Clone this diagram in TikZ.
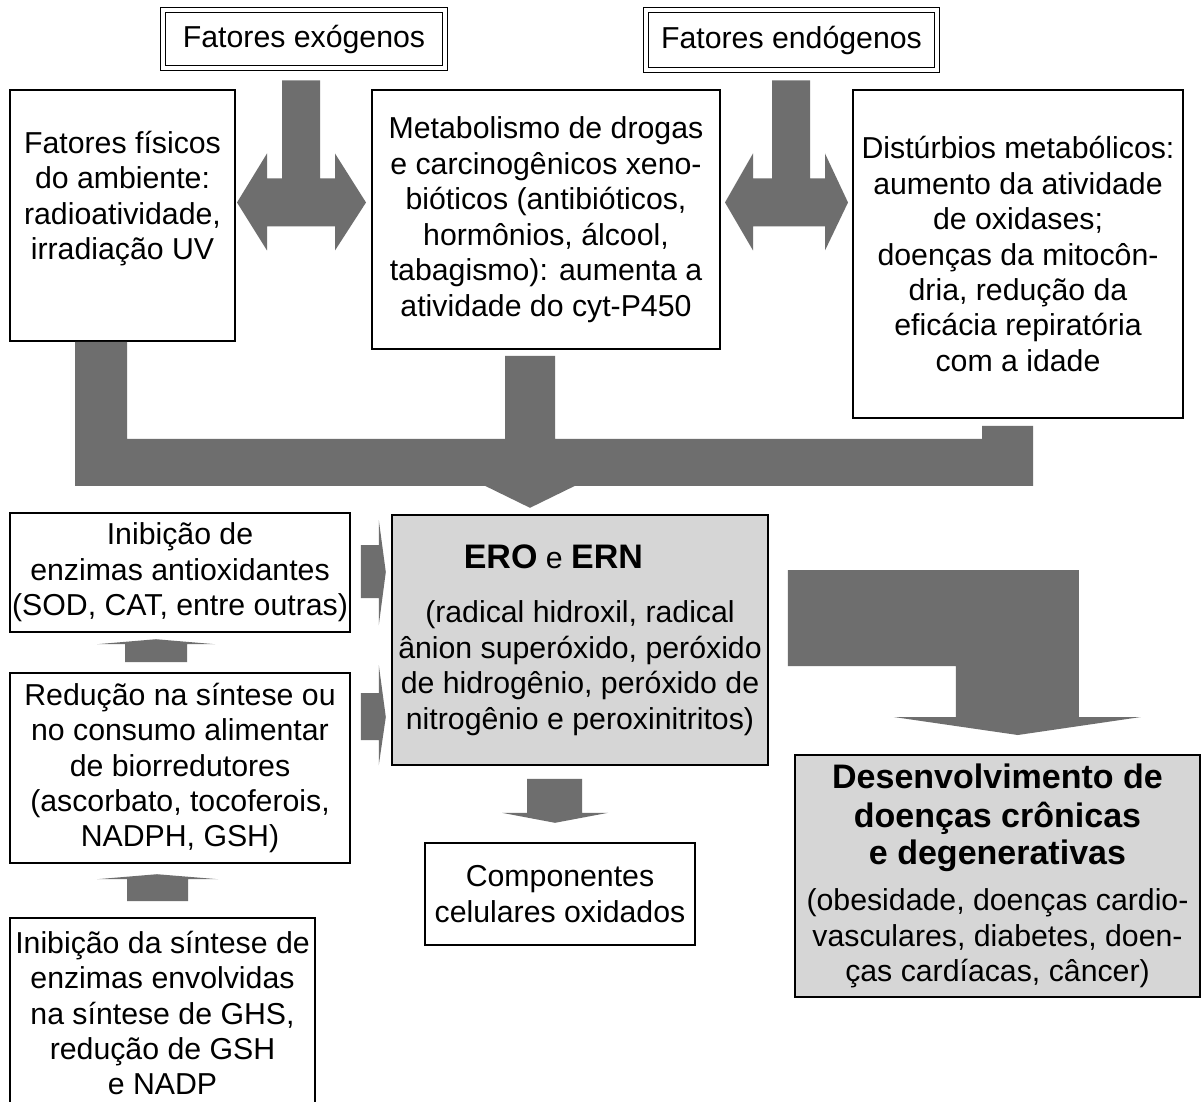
\documentclass[tikz,border=0pt]{standalone}
\usepackage{fontspec}
\setmainfont{Liberation Sans}
\usepackage{xcolor}
\usepackage{tikz}

\definecolor{fatgray}{RGB}{110,110,110}
\definecolor{shadegray}{RGB}{214,214,214}
\newcommand{\bigbold}[1]{{\fontsize{25.5}{30}\selectfont\bfseries #1}}

\begin{document}
\begin{tikzpicture}[x=0.75pt,y=0.75pt,yscale=-1,xscale=1,
  box/.style={draw, line width=1.2pt, align=center, inner sep=0pt,
    font=\fontsize{22.7}{26.6}\selectfont},
  factorbox/.style={box, line width=0.7pt, double, double distance=2.6pt},
  shadebox/.style={box, fill=shadegray},
  fat/.style={fill=fatgray}]
%set diagram size to the reference
\fill[white] (0,0) rectangle (1203,1101);
\useasboundingbox (0,0) rectangle (1203,1101);

%Top factors
\node[factorbox, minimum width=211.5pt, minimum height=43.5pt] (exo) at (304,39) {Fatores exógenos};
\node[factorbox, minimum width=218.25pt, minimum height=45pt] (endo) at (791.5,40) {Fatores endógenos};

%Sources
\node[box, minimum width=168.75pt, minimum height=188.25pt, text depth=30pt] (phys) at (122.5,215.5) {Fatores físicos\\do ambiente:\\radioatividade,\\irradiação UV};
\node[box, minimum width=261pt, minimum height=194.25pt] (metab) at (546,219.5) {Metabolismo de drogas\\e carcinogênicos xeno-\\bióticos (antibióticos,\\hormônios, álcool,\\tabagismo): aumenta a\\atividade do cyt-P450};
\node[box, minimum width=247.5pt, minimum height=246pt] (dist) at (1018,254) {Distúrbios metabólicos:\\aumento da atividade\\de oxidases;\\doenças da mitocôn-\\dria, redução da\\eficácia repiratória\\com a idade};

%Middle row
\node[box, minimum width=255pt, minimum height=89.25pt] (inibA) at (180,572.5) {Inibição de\\enzimas antioxidantes\\(SOD, CAT, entre outras)};
\node[shadebox, minimum width=282pt, minimum height=187.5pt] (ero) at (580,640) {\bigbold{ERO} e \bigbold{ERN}\hspace*{40pt}\\[14pt](radical hidroxil, radical\\ânion superóxido, peróxido\\de hidrogênio, peróxido de\\nitrogênio e peroxinitritos)};
\node[box, minimum width=255pt, minimum height=142.5pt] (reduc) at (180,768) {Redução na síntese ou\\no consumo alimentar\\de biorredutores\\(ascorbato, tocoferois,\\NADPH, GSH)};
\node[box, minimum width=228.75pt, minimum height=142.5pt] (inibB) at (162.5,1013) {Inibição da síntese de\\enzimas envolvidas\\na síntese de GHS,\\redução de GSH\\e NADP};
\node[box, minimum width=202.5pt, minimum height=76.5pt] (comp) at (560,894) {Componentes\\celulares oxidados};
\node[shadebox, minimum width=303.75pt, minimum height=181.5pt] (dev) at (997.5,876) {\bigbold{Desenvolvimento de}\\[3pt]\bigbold{doenças crônicas}\\[1pt]\bigbold{e degenerativas}\\[8pt](obesidade, doenças cardio-\\vasculares, diabetes, doen-\\ças cardíacas, câncer)};

%Fat arrows: factors split to both sides
\fill[fat] (exo.south) ++(-22,12) -- ++(0,98) -- ++(-15,0) -- ++(0,-25) -- ++(-30,49) -- ++(30,48) -- ++(0,-24) -- ++(68,0) -- ++(0,24) -- ++(31,-48) -- ++(-31,-49) -- ++(0,25) -- ++(-15,0) -- ++(0,-98) -- cycle;
\fill[fat] (endo.south) ++(-19.5,10) -- ++(0,98) -- ++(-19,0) -- ++(0,-25) -- ++(-28,49) -- ++(28,48) -- ++(0,-24) -- ++(72,0) -- ++(0,24) -- ++(23,-48) -- ++(-23,-49) -- ++(0,25) -- ++(-15,0) -- ++(0,-98) -- cycle;

%Fat arrow: sources collected into ERO
\fill[fat] (phys.south) ++(-47.5,0) -- ++(0,144) -- ++(410,0) -- ++(45,22) -- ++(45,-22) -- ++(458,0) -- ++(0,-60) -- ++(-51,0) -- ++(0,13) -- ++(-427,0) -- ++(0,-83) -- ++(-50,0) -- ++(0,83) -- ++(-378,0) -- ++(0,-97) -- cycle;

%Small arrows into ERO
\fill[fat] (inibA.east) ++(10,-27.5) -- ++(18,0) -- ++(0,-25) -- ++(7,52) -- ++(-7,53) -- ++(0,-27) -- ++(-18,0) -- cycle;
\fill[fat] (reduc.east) ++(10,-75) -- ++(18,0) -- ++(0,-28) -- ++(7,52) -- ++(-7,48) -- ++(0,-25) -- ++(-18,0) -- cycle;

%Up arrows on the left
\fill[fat] (reduc.north) ++(-55,-10) -- ++(0,-18) -- ++(-28,0) -- ++(59,-5) -- ++(59,5) -- ++(-28,0) -- ++(0,18) -- cycle;
\fill[fat] (inibB.north) ++(-35.5,-16) -- ++(0,-22) -- ++(-30,0) -- ++(60,-5) -- ++(61,5) -- ++(-30,0) -- ++(0,22) -- cycle;

%ERO to oxidised components
\fill[fat] (ero.south) ++(-53,13) -- ++(0,34) -- ++(-25,0) -- ++(53,10) -- ++(53,-10) -- ++(-26,0) -- ++(0,-34) -- cycle;

%ERO to chronic diseases
\fill[fat] (ero.east) ++(19,-70) -- ++(0,96) -- ++(168,0) -- ++(0,51) -- ++(-62,0) -- ++(124,18) -- ++(123,-18) -- ++(-62,0) -- ++(0,-147) -- cycle;
\end{tikzpicture}
\end{document}
